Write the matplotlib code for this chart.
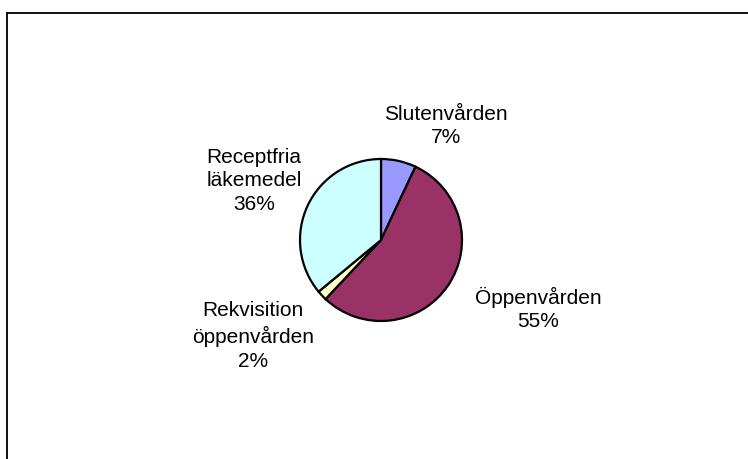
import matplotlib
matplotlib.use("Agg")
import matplotlib.pyplot as plt
from matplotlib.lines import Line2D

# data
labels = ["Slutenvården", "Öppenvården", "Rekvisition\nöppenvården", "Receptfria\nläkemedel"]
shares = [7, 55, 2, 36]
colors = ["#9999FF", "#993366", "#FFFFCC", "#CCFFFF"]

W, H = 748, 459
fig = plt.figure(figsize=(W / 100, H / 100), dpi=100)
plt.rcParams['font.family'] = ['Liberation Sans', 'DejaVu Sans']

ax = fig.add_axes([0, 0, 1, 1])
ax.pie(shares, colors=colors, startangle=90, counterclock=False,
       center=(381, H - 240), radius=81,
       wedgeprops=dict(edgecolor="black", linewidth=1.6))
ax.set_xlim(0, W)
ax.set_ylim(0, H)
ax.set_aspect("equal")
ax.axis("off")

# label positions (pixels from top-left), Excel-style placement
label_pos = [(446, 126), (538, 309), (253, 336), (254, 181)]
for lab, val, (x, y) in zip(labels, shares, label_pos):
    ax.text(x, H - y, f"{lab}\n{val}%", ha="center", va="center",
            fontsize=15, linespacing=1.32, color="black")

# chart area frame
fig.add_artist(Line2D([7 / W, 7 / W], [0, 1 - 13 / H], transform=fig.transFigure,
                      color="black", linewidth=1.3))
fig.add_artist(Line2D([7 / W, 1], [1 - 13 / H, 1 - 13 / H], transform=fig.transFigure,
                      color="black", linewidth=1.3))

fig.savefig("out.png", dpi=100)
